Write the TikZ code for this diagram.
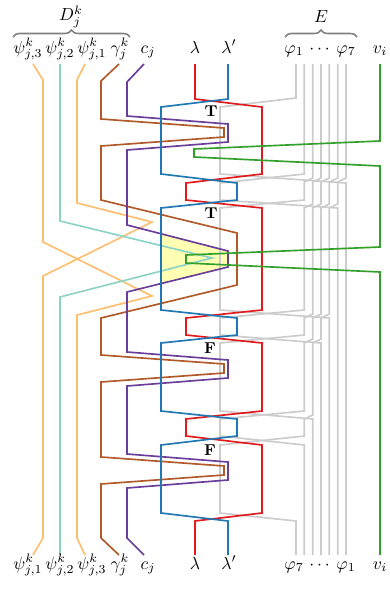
\documentclass[tikz,border=0pt]{standalone}
\usepackage{amsmath}
\usepackage{xcolor}
\usepackage{tikz}
\usetikzlibrary{decorations.pathreplacing}
\definecolor{psiorange}{HTML}{FDBF6F}
\definecolor{psiteal}{HTML}{8DD3C7}
\definecolor{gammabrown}{HTML}{B15928}
\definecolor{clausepurple}{HTML}{6A3D9A}
\definecolor{lambdared}{HTML}{E31A1C}
\definecolor{lambdablue}{HTML}{1F78B4}
\definecolor{vargreen}{HTML}{33A02C}
\definecolor{edgegray}{HTML}{CCCCCC}
\definecolor{clauseyellow}{HTML}{FFFFB3}
\definecolor{bracegray}{HTML}{808080}
\tikzset{
    tangle/.style={
        x=0.0201cm, y=-0.0201cm,
        strand/.style={line width=0.95pt},
        edge_strand/.style={strand, draw=edgegray},
        psi_strand/.style={strand, draw=psiorange},
        mid_strand/.style={strand, draw=psiteal},
        gamma_strand/.style={strand, draw=gammabrown},
        clause_strand/.style={strand, draw=clausepurple},
        lam_strand/.style={strand, draw=lambdared},
        lamp_strand/.style={strand, draw=lambdablue},
        var_strand/.style={strand, draw=vargreen},
        value/.style={font=\small\bfseries, inner sep=1pt},
        end_label/.style={anchor=base, inner sep=0.5pt},
        group_brace/.style={decorate, decoration={brace, amplitude=4pt}, draw=bracegray, line width=0.9pt}
    }
}

\begin{document}
\begin{tikzpicture}[tangle]
        \useasboundingbox (0,0) rectangle (390,589);

        % Clause region
        \fill[clauseyellow] (161,233.8) -- (228,251) -- (228,267) -- (161,283.6) -- cycle;

        % Edge strands
        \draw[edge_strand] (296,64) -- (296,98) -- (220,107) -- (220,174) -- (346,183) -- (346,555);
        \draw[edge_strand] (304.3,64) -- (304.3,174) -- (220,183) -- (220,200) -- (337.7,208) -- (337.7,555);
        \draw[edge_strand] (312.7,64) -- (312.7,178) -- (304.3,182) -- (304.3,200) -- (220,208) -- (220,310) -- (329.3,318) -- (329.3,555);
        \draw[edge_strand] (321,64) -- (321,178) -- (312.7,182) -- (312.7,204) -- (304.3,208) -- (304.3,310) -- (220,318) -- (220,335) -- (321,343) -- (321,555);
        \draw[edge_strand] (329.3,64) -- (329.3,178) -- (321,182) -- (321,204) -- (312.7,208) -- (312.7,314) -- (304.3,318) -- (304.3,335) -- (220,343) -- (220,411) -- (312.7,419) -- (312.7,555);
        \draw[edge_strand] (337.7,64) -- (337.7,178) -- (329.3,182) -- (329.3,204) -- (321,208) -- (321,314) -- (312.7,318) -- (312.7,339) -- (304.3,343) -- (304.3,411) -- (220,419) -- (220,436) -- (304.3,445) -- (304.3,555);
        \draw[edge_strand] (346,64) -- (346,178) -- (337.7,182) -- (337.7,204) -- (329.3,208) -- (329.3,314) -- (321,318) -- (321,339) -- (312.7,343) -- (312.7,415) -- (304.3,419) -- (304.3,436) -- (220,445) -- (220,513) -- (296,521) -- (296,555);

        % Literal strands
        \draw[psi_strand] (33,64) -- (43,80) -- (43,242) -- (152,296) -- (77,315) -- (77,538) -- (85,555);
        \draw[psi_strand] (85,64) -- (77,80) -- (77,203) -- (152,222) -- (43,276) -- (43,538) -- (33,555);
        \draw[mid_strand] (60,64) -- (60,221) -- (212,258) -- (60,297) -- (60,555);
        \draw[gamma_strand] (119,64) -- (101,81) -- (101,119) -- (224,128) -- (224,137) -- (101,146) -- (101,200) -- (237,233) -- (237,285) -- (101,318) -- (101,355) -- (224,364) -- (224,373) -- (101,382) -- (101,457) -- (224,466) -- (224,475) -- (101,484) -- (101,538) -- (119,555);
        \draw[clause_strand] (144,64) -- (127,82) -- (127,116) -- (228,124) -- (228,142) -- (127,150) -- (127,225) -- (228,251) -- (228,267) -- (127,292) -- (127,352) -- (228,360) -- (228,378) -- (127,386) -- (127,454) -- (228,462) -- (228,480) -- (127,488) -- (127,538) -- (144,555);

        % Assignment strands
        \draw[lam_strand] (195,64) -- (195,99) -- (262,107) -- (262,174) -- (186,183) -- (186,200) -- (262,208) -- (262,310) -- (186,318) -- (186,335) -- (262,343) -- (262,411) -- (186,419) -- (186,436) -- (262,445) -- (262,513) -- (195,521) -- (195,555);
        \draw[lamp_strand] (228,64) -- (228,99) -- (161,107) -- (161,174) -- (237,183) -- (237,200) -- (161,208) -- (161,310) -- (237,318) -- (237,335) -- (161,343) -- (161,411) -- (237,419) -- (237,436) -- (161,445) -- (161,513) -- (228,521) -- (228,555);

        % Variable strand
        \draw[var_strand] (380,64) -- (380,141) -- (194,149) -- (194,157) -- (380,166) -- (380,247) -- (186,255) -- (186,263) -- (380,272) -- (380,555);

        % Truth values
        \node[value] (val1) at (211,111) {T};
        \node[value] (val2) at (211,213) {T};
        \node[value] (val3) at (210,348) {F};
        \node[value] (val4) at (210,450) {F};

        % Top labels
        \node[end_label] (psi3top) at (28,53) {$\psi^k_{j,3}$};
        \node[end_label] (psi2top) at (60,53) {$\psi^k_{j,2}$};
        \node[end_label] (psi1top) at (92,53) {$\psi^k_{j,1}$};
        \node[end_label] (gamtop) at (120,53) {$\gamma^k_j$};
        \node[end_label] (ctop) at (148,53) {$c_j$};
        \node[end_label] (lamtop) at (195,53) {$\lambda$};
        \node[end_label] (lamptop) at (229,53) {$\lambda'$};
        \node[end_label] (phi1top) at (294,53) {$\varphi_1$};
        \node[end_label] (dotstop) at (321,53) {$\cdots$};
        \node[end_label] (phi7top) at (346,53) {$\varphi_7$};
        \node[end_label] (vtop) at (380,53) {$v_i$};

        % Bottom labels
        \node[end_label] (psi1bot) at (28,569) {$\psi^k_{j,1}$};
        \node[end_label] (psi2bot) at (60,569) {$\psi^k_{j,2}$};
        \node[end_label] (psi3bot) at (92,569) {$\psi^k_{j,3}$};
        \node[end_label] (gambot) at (120,569) {$\gamma^k_j$};
        \node[end_label] (cbot) at (148,569) {$c_j$};
        \node[end_label] (lambot) at (195,569) {$\lambda$};
        \node[end_label] (lampbot) at (229,569) {$\lambda'$};
        \node[end_label] (phi7bot) at (294,569) {$\varphi_7$};
        \node[end_label] (dotsbot) at (321,569) {$\cdots$};
        \node[end_label] (phi1bot) at (346,569) {$\varphi_1$};
        \node[end_label] (vbot) at (380,569) {$v_i$};

        % Groups
        \draw[group_brace] (13,37) -- (130,37);
        \node[inner sep=1pt] (dgroup) at (71,17) {$D^k_j$};
        \draw[group_brace] (285,37) -- (357,37);
        \node[inner sep=1pt] (egroup) at (321,17) {$E$};
\end{tikzpicture}
\end{document}
